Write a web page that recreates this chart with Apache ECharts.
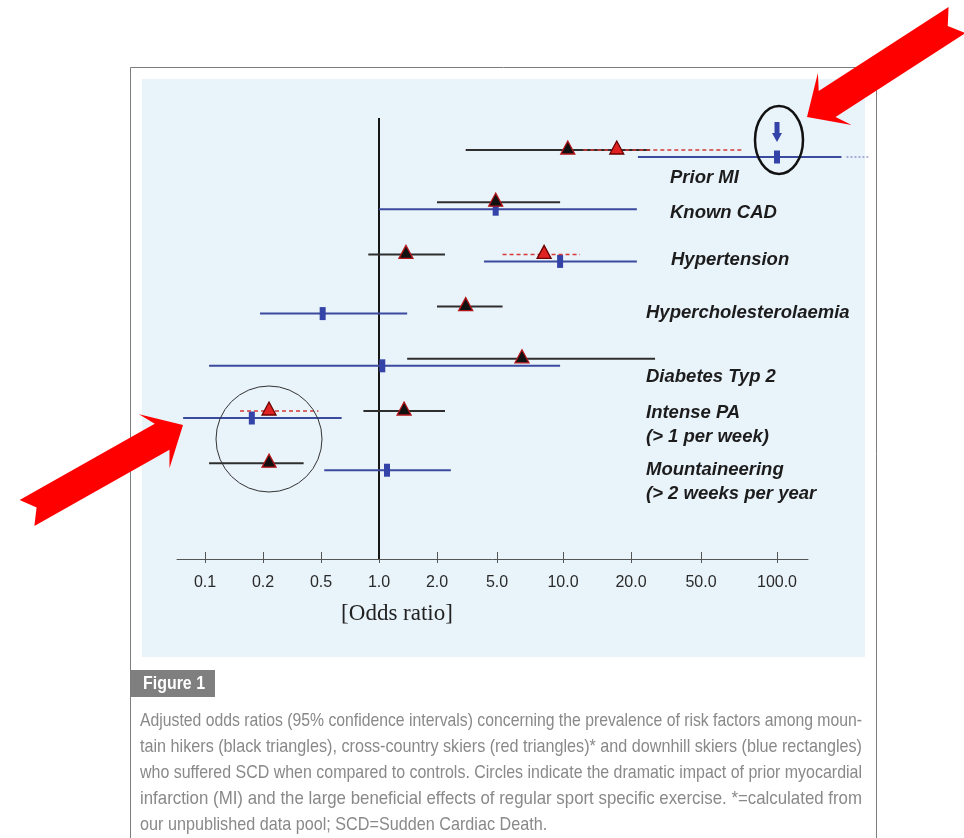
<!DOCTYPE html>
<html><head><meta charset="utf-8">
<script src="https://cdn.jsdelivr.net/npm/echarts@6/dist/echarts.min.js"></script>
<style>html,body{margin:0;padding:0;background:#fff}#c{width:964px;height:838px}</style>
</head><body><div id="c"></div>
<script>
// ---------- data ----------
const categories = ['Prior MI', 'Known CAD', 'Hypertension', 'Hypercholesterolaemia', 'Diabetes Typ 2',
  'Intense PA\n(> 1 per week)', 'Mountaineering\n(> 2 weeks per year'];
const tickLabels = ['0.1', '0.2', '0.5', '1.0', '2.0', '5.0', '10.0', '20.0', '50.0', '100.0'];
const tickValues = [0.1, 0.2, 0.5, 1, 2, 5, 10, 20, 50, 100];
// the source axis is hand-spaced: relative gap between successive ticks
const tickGaps = [58, 58, 58, 58, 60, 66, 68, 70, 76];

// mountain hikers (black triangles)
const hikersOR = [10.5, 4.9, 1.38, 3.1, 6.5, 1.35, 0.22];
const hikersLo = [3.1, 2.0, 0.88, 2.0, 1.4, 0.83, 0.105];
const hikersHi = [25.6, 9.7, 2.26, 5.3, 27.4, 2.26, 0.38];
// cross-country skiers (red triangles)
const xcOR = [17.3, null, 8.2, null, null, 0.22, null];
const xcLo = [12.3, null, 5.3, null, null, 0.152, null];
const xcHi = [73, null, 11.9, null, null, 0.48, null];
// downhill skiers (blue rectangles)
const dhOR = [100, 4.9, 9.7, 0.51, 1.04, 0.175, 1.1];
const dhLo = [21.9, 1.0, 4.1, 0.193, 0.105, 0.077, 0.52];
const dhHi = [180, 21.6, 21.6, 1.4, 9.7, 0.64, 2.47];
const dhOpenHi = [230, null, null, null, null, null, null];

const axisTitle = '[Odds ratio]';
const figureTag = 'Figure 1';
const captionLines = [
  'Adjusted odds ratios (95% confidence intervals) concerning the prevalence of risk factors among moun-',
  'tain hikers (black triangles), cross-country skiers (red triangles)* and downhill skiers (blue rectangles)',
  'who suffered SCD when compared to controls. Circles indicate the dramatic impact of prior myocardial',
  'infarction (MI) and the large beneficial effects of regular sport specific exercise. *=calculated from',
  'our unpublished data pool; SCD=Sudden Cardiac Death.'
];

// ---------- scale ----------
const tickPos = tickGaps.reduce((a, g) => { a.push(a[a.length - 1] + g); return a; }, [0]);
function toAxis(v) {
  const n = tickValues.length;
  let i = 0;
  while (i < n - 2 && v > tickValues[i + 1]) i++;
  const f = Math.log(v / tickValues[i]) / Math.log(tickValues[i + 1] / tickValues[i]);
  return tickPos[i] + f * (tickPos[i + 1] - tickPos[i]);
}
function build(or, lo, hi, ext) {
  const out = [];
  or.forEach((v, i) => {
    if (v == null) return;
    out.push([i, toAxis(lo[i]), toAxis(v), toAxis(hi[i]), ext && ext[i] != null ? toAxis(ext[i]) : NaN]);
  });
  return out;
}

const Y_MIN = -0.613, Y_MAX = 7.835;

function tri(cx, cy, fill, stroke) {
  return { type: 'polygon', shape: { points: [[cx, cy - 9], [cx - 7, cy + 4], [cx + 7, cy + 4]] },
    style: { fill: fill, stroke: stroke, lineWidth: 1.3 } };
}
function renderHikers(p, api) {
  const y = api.value(0);
  const a = api.coord([api.value(1), y]), m = api.coord([api.value(2), y]), b = api.coord([api.value(3), y]);
  return { type: 'group', children: [
    { type: 'line', shape: { x1: a[0], y1: a[1], x2: b[0], y2: b[1] }, style: { stroke: '#2e2e2e', lineWidth: 2 } },
    tri(m[0], m[1], '#111', '#b3161a')
  ] };
}
function renderXC(p, api) {
  const y = api.value(0);
  const a = api.coord([api.value(1), y]), m = api.coord([api.value(2), y]), b = api.coord([api.value(3), y]);
  return { type: 'group', children: [
    { type: 'line', shape: { x1: a[0], y1: a[1], x2: b[0], y2: b[1] }, style: { stroke: '#d63838', lineWidth: 1.5, lineDash: [4, 3] } },
    tri(m[0], m[1], '#e02222', '#6a0000')
  ] };
}
function renderDH(p, api) {
  const y = api.value(0);
  const a = api.coord([api.value(1), y]), m = api.coord([api.value(2), y]), b = api.coord([api.value(3), y]);
  const dy = 7, yb = a[1] + dy;
  const ch = [
    { type: 'line', shape: { x1: a[0], y1: yb, x2: b[0], y2: yb }, style: { stroke: '#3a4a9e', lineWidth: 2 } },
    { type: 'rect', shape: { x: m[0] - 3, y: yb - 6.5, width: 6, height: 13 }, style: { fill: '#3443a8' } }
  ];
  const ext = api.value(4);
  if (!isNaN(ext)) {
    const e = api.coord([ext, y]);
    ch.push({ type: 'line', shape: { x1: b[0] + 5, y1: yb, x2: e[0], y2: yb }, style: { stroke: '#8f98cc', lineWidth: 1.5, lineDash: [2, 2] } });
    ch.push({ type: 'rect', shape: { x: m[0] - 2.5, y: yb - 35, width: 5, height: 12 }, style: { fill: '#3443a8' } });
    ch.push({ type: 'polygon', shape: { points: [[m[0] - 5, yb - 24], [m[0] + 5, yb - 24], [m[0], yb - 15]] }, style: { fill: '#3443a8' } });
  }
  return { type: 'group', children: ch };
}

// ---------- annotations ----------
function arrowPts(tip, tail, w, h, H, back, notch) {
  const dx = tip[0] - tail[0], dy = tip[1] - tail[1], L = Math.hypot(dx, dy);
  const u = [dx / L, dy / L], pp = [-u[1], u[0]];
  const P = (a, b) => [tip[0] - a * u[0] + b * pp[0], tip[1] - a * u[1] + b * pp[1]];
  return [P(0, 0), P(h + back, H), P(h, w), P(L, w), P(L - notch, 0), P(L, -w), P(h, -w), P(h + back, -H)];
}

const cv = document.createElement('canvas').getContext('2d');
function textW(t, font) { cv.font = font; return cv.measureText(t).width; }
const capFont = '19px "Liberation Sans"';
const capScales = captionLines.map(t => 722 / textW(t, capFont));
const avgScale = (capScales[0] + capScales[1] + capScales[2] + capScales[3]) / 4;
const capY = [721, 747, 773, 799, 825];

const graphic = [
  { type: 'rect', z: -5, shape: { x: 142, y: 79, width: 723, height: 578 }, style: { fill: '#e9f3fa' } },
  { type: 'rect', z: -5, shape: { x: 130.5, y: 67.5, width: 746, height: 800 }, style: { fill: 'none', stroke: '#7d7d7d', lineWidth: 1 } },
  { type: 'rect', z: -4, shape: { x: 131, y: 670, width: 84, height: 27 }, style: { fill: '#7f7f7f' } },
  { type: 'text', z: 5, x: 143, y: 684, scaleX: 62 / textW(figureTag, 'bold 19px "Liberation Sans"'),
    style: { text: figureTag, fill: '#fff', font: 'bold 19px "Liberation Sans"', textVerticalAlign: 'middle' } },
  { type: 'text', z: 5, x: 397, y: 614,
    style: { text: axisTitle, fill: '#222', font: '23px "Liberation Serif"', textAlign: 'center', textVerticalAlign: 'middle' } },
  { type: 'ellipse', z: 50, shape: { cx: 779, cy: 140, rx: 24, ry: 34 }, style: { fill: 'none', stroke: '#111', lineWidth: 2.5 } },
  { type: 'circle', z: 50, shape: { cx: 269, cy: 439, r: 53 }, style: { fill: 'none', stroke: '#333', lineWidth: 1 } },
  { type: 'polygon', z: 60, shape: { points: arrowPts([807, 117], [957, 20], 15.5, 24, 31, 9, 11) }, style: { fill: '#ff0000' } },
  { type: 'polygon', z: 60, shape: { points: arrowPts([183, 425], [27, 513], 15, 24, 31, 9, 11) }, style: { fill: '#ff0000' } }
];
captionLines.forEach((t, i) => {
  graphic.push({ type: 'text', z: 5, x: 140, y: capY[i], scaleX: i < 4 ? capScales[i] : avgScale,
    style: { text: t, fill: '#898989', font: capFont, textVerticalAlign: 'middle' } });
});
const labelPos = [[670, 178], [670, 213], [671, 260], [646, 313], [646, 377], [646, 413], [646, 470]];
categories.forEach((c, i) => {
  graphic.push({ type: 'text', z: 5, x: labelPos[i][0], y: labelPos[i][1] - 12,
    style: { text: c, fill: '#1c1c1c', font: 'italic bold 18.5px "Liberation Sans"', lineHeight: 24, textVerticalAlign: 'top' } });
});

const chart = echarts.init(document.getElementById('c'), null, { renderer: 'canvas' });
const xBase = { type: 'value', min: -28, max: 603, position: 'bottom', offset: 0, splitLine: { show: false } };
chart.setOption({
  animation: false,
  backgroundColor: '#ffffff',
  grid: { left: 177, right: 156, top: 118, bottom: 279, containLabel: false, outerBoundsMode: 'none' },
  xAxis: [
    Object.assign({}, xBase, {
      axisLine: { show: true, onZero: false, lineStyle: { color: '#555', width: 1 } },
      axisTick: { show: true, inside: true, length: 7, customValues: tickPos, lineStyle: { color: '#555' } },
      axisLabel: { customValues: tickPos, formatter: v => { const k = tickPos.indexOf(Math.round(v)); return k >= 0 ? tickLabels[k] : ''; },
        color: '#2a2a2a', fontSize: 16, fontFamily: 'Liberation Sans', margin: 16 }
    }),
    Object.assign({}, xBase, {
      axisLine: { show: false, onZero: false },
      axisTick: { show: true, inside: false, length: 4, customValues: tickPos, lineStyle: { color: '#555' } },
      axisLabel: { show: false }
    })
  ],
  yAxis: { type: 'value', inverse: true, min: Y_MIN, max: Y_MAX, show: false, splitLine: { show: false } },
  graphic: graphic,
  series: [
    { type: 'line', data: [[toAxis(1), Y_MIN], [toAxis(1), Y_MAX]], symbol: 'none', silent: true,
      lineStyle: { color: '#161616', width: 2 }, z: 1 },
    { type: 'custom', name: 'downhill skiers', renderItem: renderDH, data: build(dhOR, dhLo, dhHi, dhOpenHi),
      encode: { x: [1, 2, 3], y: 0 }, clip: false, z: 2 },
    { type: 'custom', name: 'mountain hikers', renderItem: renderHikers, data: build(hikersOR, hikersLo, hikersHi),
      encode: { x: [1, 2, 3], y: 0 }, clip: false, z: 3 },
    { type: 'custom', name: 'cross-country skiers', renderItem: renderXC, data: build(xcOR, xcLo, xcHi),
      encode: { x: [1, 2, 3], y: 0 }, clip: false, z: 4 }
  ]
});
</script></body></html>
